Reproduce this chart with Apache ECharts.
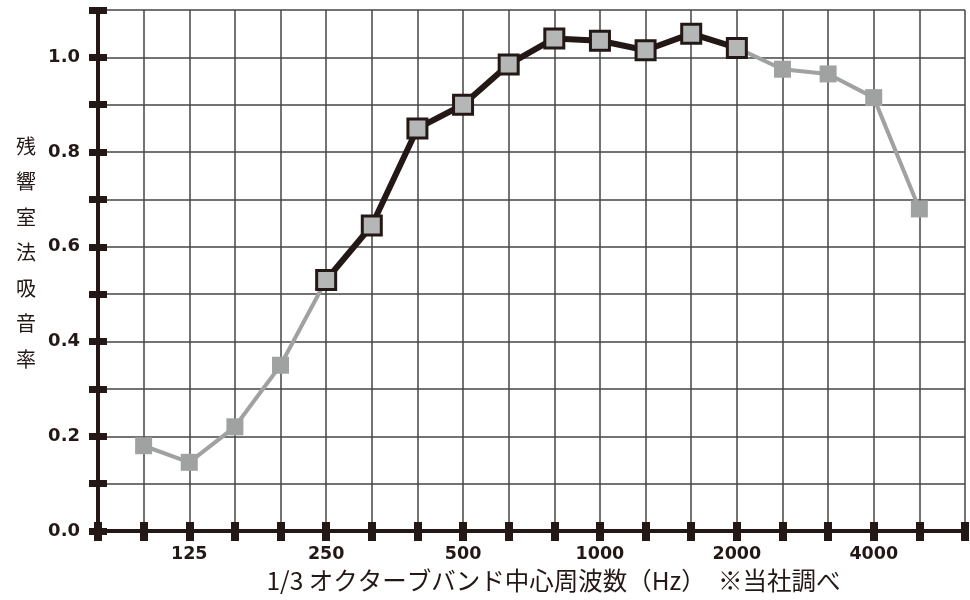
<!DOCTYPE html>
<html><head><meta charset="utf-8">
<script src="https://cdn.jsdelivr.net/npm/echarts@6/dist/echarts.min.js"></script>
<style>html,body{margin:0;padding:0;background:#fff}#c{width:970px;height:600px}</style>
</head><body><div id="c"></div>
<script>
// Data
const freqs = ['100','125','160','200','250','315','400','500','630','800','1000','1250','1600','2000','2500','3150','4000','5000'];
const values = [0.18,0.145,0.22,0.35,0.53,0.645,0.85,0.90,0.985,1.04,1.035,1.015,1.05,1.02,0.975,0.965,0.915,0.68];
const labeledFreqs = ['125','250','500','1000','2000','4000'];
const blackRange = ['250','2000'];
const yTicks = [0.0,0.2,0.4,0.6,0.8,1.0];
const xName = '1/3 オクターブバンド中心周波数（Hz）　※当社調べ';
const yName = '残響室法吸音率';

const INK = '#231815';
const GRAY = '#a0a2a1';
const cats = [''].concat(freqs).concat(['']);
const grayData = [null].concat(values).concat([null]);
const i0 = freqs.indexOf(blackRange[0]), i1 = freqs.indexOf(blackRange[1]);
const blackData = [null].concat(values.map((v,i)=> (i>=i0 && i<=i1) ? v : null)).concat([null]);

const numFont = '"DejaVu Sans", "Noto Sans CJK JP", sans-serif';
const jpFont = '"Noto Sans CJK JP", "Noto Sans", sans-serif';

const chart = echarts.init(document.getElementById('c'), null, {renderer:'canvas'});
const baseX = {
  type:'category', data:cats, boundaryGap:false, gridIndex:0,
  axisLine:{show:true, onZero:false, lineStyle:{color:INK, width:4}},
};
const baseY = {
  type:'value', min:0, max:1.1, interval:0.1, gridIndex:0,
  axisLine:{show:true, onZero:false, lineStyle:{color:INK, width:4}},
};
chart.setOption({
  animation:false,
  backgroundColor:'#fff',
  grid:{left:98, right:5, top:10, bottom:69, containLabel:false, outerBoundsMode:'none'},
  xAxis:[
    Object.assign({}, baseX, {
      position:'bottom',
      name:xName, nameLocation:'middle', nameGap:37,
      nameTextStyle:{fontFamily:jpFont, fontSize:24.5, color:INK, padding:[0,0,0,44]},
      axisTick:{show:true, inside:true, length:9, interval:0, lineStyle:{color:INK, width:8}},
      axisLabel:{show:true, interval:0, margin:15, fontFamily:numFont, fontWeight:'bold', fontSize:17.5, color:INK,
        formatter:(v)=> labeledFreqs.indexOf(v)>=0 ? v : ''},
      splitLine:{show:true, interval:0, lineStyle:{color:'#444', width:1.5}},
      z:5
    }),
    Object.assign({}, baseX, {
      position:'bottom',
      axisTick:{show:true, inside:false, length:10, interval:0, lineStyle:{color:INK, width:8}},
      axisLabel:{show:false}, splitLine:{show:false}, z:5
    })
  ],
  yAxis:[
    Object.assign({}, baseY, {
      position:'left',
      name:yName.split('').join('\n') + '\n', nameLocation:'middle', nameGap:62, nameRotate:0,
      nameTextStyle:{fontFamily:jpFont, fontSize:20, color:INK, lineHeight:35.5},
      axisTick:{show:true, inside:true, length:9, lineStyle:{color:INK, width:7}},
      axisLabel:{show:true, margin:18, fontFamily:numFont, fontWeight:'bold', fontSize:18, color:INK,
        formatter:(v)=>{ const t = yTicks.find(k=>Math.abs(k-v)<1e-6); return t===undefined ? '' : t.toFixed(1); }},
      splitLine:{show:true, lineStyle:{color:'#444', width:1.5}},
      z:5
    }),
    Object.assign({}, baseY, {
      position:'left',
      axisTick:{show:true, inside:false, length:9, lineStyle:{color:INK, width:7}},
      axisLabel:{show:false}, splitLine:{show:false}, z:5
    })
  ],
  series:[
    {type:'line', xAxisIndex:0, yAxisIndex:0, data:grayData, symbol:'rect', symbolSize:17,
      lineStyle:{color:GRAY, width:4}, itemStyle:{color:GRAY, borderWidth:0}, z:10},
    {type:'line', xAxisIndex:0, yAxisIndex:0, data:blackData, symbol:'rect', symbolSize:19,
      lineStyle:{color:INK, width:6}, itemStyle:{color:'#b5b7b6', borderColor:INK, borderWidth:3}, z:11}
  ]
});
</script></body></html>
